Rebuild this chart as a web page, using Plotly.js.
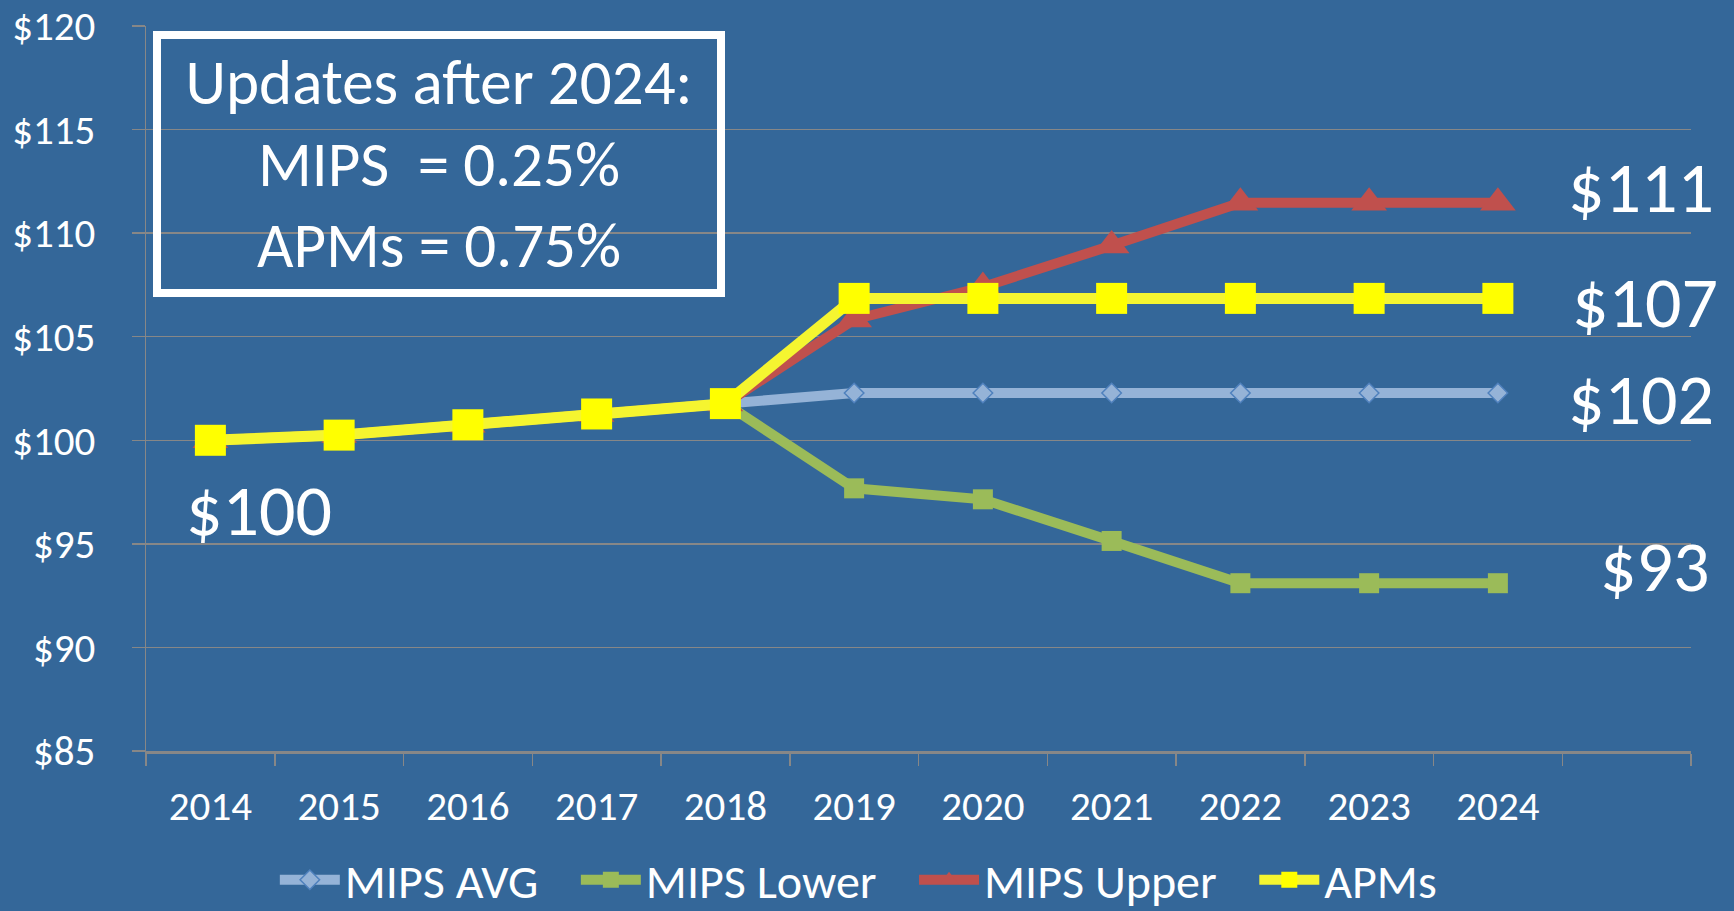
<!DOCTYPE html>
<html>
<head>
<meta charset="utf-8">
<script src="https://cdn.plot.ly/plotly-3.0.1.min.js"></script>
<style>
  html, body { margin: 0; padding: 0; background: #346799; }
  #chart { width: 1734px; height: 911px; }
</style>
</head>
<body>
<div id="chart"></div>
<script>
// ---- Data ----
const years = [2014, 2015, 2016, 2017, 2018, 2019, 2020, 2021, 2022, 2023, 2024];
const yearLabels = ["2014", "2015", "2016", "2017", "2018", "2019", "2020", "2021", "2022", "2023", "2024"];
const mipsAvg   = [100, 100.25, 100.75, 101.27, 101.77, 102.28, 102.28, 102.28, 102.28, 102.28, 102.28];
const mipsLower = [100, 100.25, 100.75, 101.27, 101.77, 97.68, 97.15, 95.14, 93.1, 93.1, 93.1];
const mipsUpper = [100, 100.25, 100.75, 101.27, 101.77, 105.83, 107.4, 109.4, 111.47, 111.47, 111.47];
const apms      = [100, 100.25, 100.75, 101.27, 101.77, 106.85, 106.85, 106.85, 106.85, 106.85, 106.85];
const seriesNames = ["MIPS AVG", "MIPS Lower", "MIPS Upper", "APMs"];
const boxText = "Updates after 2024:<br>MIPS  = 0.25%<br>APMs = 0.75%";

// ---- Styling ----
const FONT = "Carlito, Calibri, Lato, sans-serif";
const BG = "#346799";
const GRID = "#878787";
const WHITE = "#ffffff";
// spacing after legend entries (non-breaking spaces), last entry needs none
const legendPad = "\u00a0\u00a0\u00a0";
const legendName = (i) => seriesNames[i] + (i < seriesNames.length - 1 ? legendPad : "");

const traces = [
  {
    x: years, y: mipsAvg, name: legendName(0), type: "scatter", mode: "lines+markers",
    line: { color: "#95B3D7", width: 10 },
    marker: { symbol: "diamond", size: 15, color: "#95B3D7", line: { color: "#4F81BD", width: 1.5 } }
  },
  {
    x: years, y: mipsLower, name: legendName(1), type: "scatter", mode: "lines+markers",
    line: { color: "#9BBB59", width: 10 },
    marker: { symbol: "square", size: 20, color: "#9BBB59" }
  },
  {
    x: years, y: mipsUpper, name: legendName(2), type: "scatter", mode: "lines+markers",
    line: { color: "#C0504D", width: 10 },
    marker: { symbol: "triangle-up", size: 31, color: "#C0504D" }
  },
  {
    x: years, y: apms, name: legendName(3), type: "scatter", mode: "lines+markers",
    line: { color: "#F5F530", width: 11 },
    marker: { symbol: "square", size: 31, color: "#FFFF00" }
  }
];

// value labels: series values, index, x/y offsets in px
const last = years.length - 1;
const valueLabels = [
  { v: mipsUpper, i: last, dx: 143, dy: 16 },
  { v: apms,      i: last, dx: 147, dy: -4 },
  { v: mipsAvg,   i: last, dx: 143, dy: -6 },
  { v: mipsLower, i: last, dx: 157, dy: 17 },
  { v: apms,      i: 0,    dx: 49,  dy: -70 }
];

const annotations = valueLabels.map(l => ({
  x: years[l.i], y: l.v[l.i], xref: "x", yref: "y",
  text: "$" + Math.round(l.v[l.i]),
  showarrow: false, xanchor: "center", yanchor: "middle",
  xshift: l.dx, yshift: l.dy,
  font: { family: FONT, size: 72, color: WHITE }
}));

annotations.push({
  x: 0.0045, y: 0.9931, xref: "paper", yref: "paper",
  xanchor: "left", yanchor: "top",
  text: boxText, showarrow: false, align: "center",
  width: 556, height: 250,
  bordercolor: WHITE, borderwidth: 8, borderpad: 0,
  font: { family: FONT, size: 63, color: WHITE }
});

const layout = {
  width: 1734, height: 911,
  paper_bgcolor: BG, plot_bgcolor: BG,
  margin: { l: 146, r: 43, t: 26, b: 160, pad: 0 },
  showlegend: true,
  legend: {
    orientation: "h", xref: "container", yref: "container",
    x: 0.495, xanchor: "center", y: 0.034, yanchor: "middle",
    itemwidth: 60,
    font: { family: FONT, size: 48, color: WHITE },
    bgcolor: "rgba(0,0,0,0)"
  },
  xaxis: {
    type: "linear", range: [2013.5, 2025.5],
    tickmode: "array", tickvals: years, ticktext: yearLabels,
    ticks: "", showgrid: false, zeroline: false,
    showline: true, linecolor: GRID, linewidth: 2.5,
    tickfont: { family: FONT, size: 41, color: WHITE },
    ticklabelstandoff: 17,
    minor: { tickmode: "linear", tick0: 2013.5, dtick: 1, ticks: "outside", ticklen: 12, tickcolor: GRID, tickwidth: 1.5, showgrid: false }
  },
  yaxis: {
    range: [85, 120], tickmode: "linear", tick0: 85, dtick: 5,
    tickprefix: "$",
    ticks: "outside", ticklen: 13, tickcolor: GRID, tickwidth: 1.5,
    showgrid: true, gridcolor: GRID, gridwidth: 1.5, zeroline: false,
    showline: true, linecolor: GRID, linewidth: 1.5,
    tickfont: { family: FONT, size: 41, color: WHITE },
    ticklabelstandoff: 28
  },
  annotations: annotations
};

Plotly.newPlot("chart", traces, layout, { displayModeBar: false, staticPlot: true });
</script>
</body>
</html>
